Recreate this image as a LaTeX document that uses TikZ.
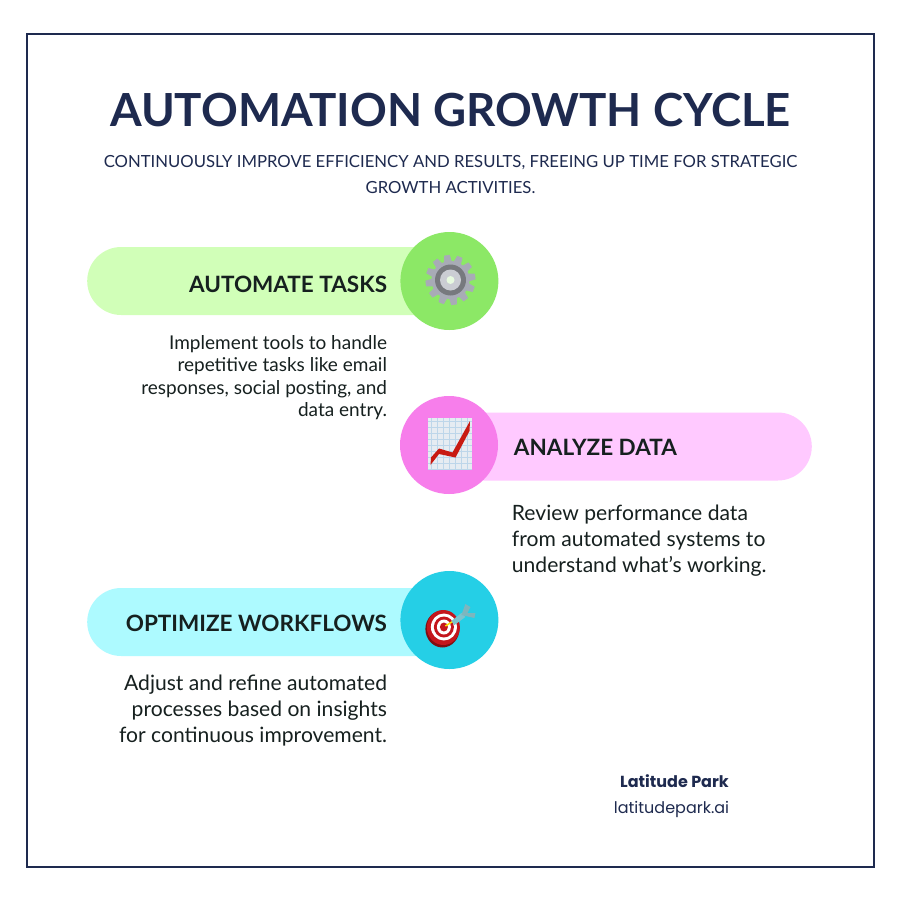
\documentclass[tikz,border=0pt]{standalone}
\usepackage{fontspec}
\setmainfont{Lato}
\newfontfamily\footfont{Poppins}
\usetikzlibrary{positioning}
\definecolor{navy}{HTML}{1E2A4F}
\definecolor{inkdark}{HTML}{16201F}
\definecolor{greenlight}{HTML}{D1FFB8}
\definecolor{greendot}{HTML}{8CE866}
\definecolor{pinklight}{HTML}{FFC9FF}
\definecolor{pinkdot}{HTML}{F77EEB}
\definecolor{cyanlight}{HTML}{ADFAFF}
\definecolor{cyandot}{HTML}{25CFE6}
\definecolor{gearsteel}{HTML}{A8ABB6}
\definecolor{geardark}{HTML}{77797E}
\definecolor{chartpaper}{HTML}{E6ECF2}
\definecolor{chartgrid}{HTML}{BDD6EA}
\definecolor{chartred}{HTML}{C81A12}
\definecolor{targetred}{HTML}{C4161C}
\definecolor{dartblue}{HTML}{7CC4CE}
\tikzset{
    pill/.style={minimum width=362pt, minimum height=68pt, rounded corners=34pt, inner sep=0pt},
    dot/.style={circle, minimum size=98pt, inner sep=0pt},
    heading/.style={font=\fontsize{22.5}{27}\selectfont\bfseries, text=inkdark, inner sep=0pt},
    body/.style={font=\fontsize{19}{22.5}\selectfont, text=inkdark, inner sep=0pt},
    bodywide/.style={font=\fontsize{21.1}{26}\selectfont, text=inkdark, inner sep=0pt}
}
\begin{document}
\begin{tikzpicture}[x=1pt, y=-1pt]
    \useasboundingbox (0,0) rectangle (900,900);
    \fill[white] (0,0) rectangle (900,900);
    \draw[navy, line width=2pt] (27,34) rectangle (874,867);

    \node[font=\fontsize{45.6}{56}\selectfont\bfseries, text=navy, inner sep=0pt] (title) at (450.5,110) {AUTOMATION GROWTH CYCLE};
    \node[font=\fontsize{16.7}{26}\selectfont, text=navy, align=center, inner sep=0pt, below=28pt of title] (subtitle)
        {CONTINUOUSLY IMPROVE EFFICIENCY AND RESULTS, FREEING UP TIME FOR STRATEGIC\\GROWTH ACTIVITIES.};

    % first step
    \node[pill, fill=greenlight, anchor=west] (autopill) at (87,281) {};
    \node[dot, fill=greendot] (autodot) at (autopill.east) {};
    \node[heading, left=13pt of autodot, yshift=-3pt] (autohead) {AUTOMATE TASKS};
    \node[body, align=right, below left=42.5pt and 0pt of autohead.south east] (autotext)
        {Implement tools to handle\\repetitive tasks like email\\responses, social posting, and\\data entry.};

    % second step
    \node[pill, fill=pinklight, anchor=east] (datapill) at (812,446.5) {};
    \node[dot, fill=pinkdot] (datadot) at (449,445) {};
    \node[heading, right=15.5pt of datadot, yshift=-2pt] (datahead) {ANALYZE DATA};
    \node[bodywide, align=left, below right=49.5pt and -2pt of datahead.south west] (datatext)
        {Review performance data\\from automated systems to\\understand what's working.};

    % third step
    \node[pill, fill=cyanlight, anchor=west] (flowpill) at (87,622) {};
    \node[dot, fill=cyandot] (flowdot) at (flowpill.east |- 0,620) {};
    \node[heading, left=13pt of flowdot, yshift=-3pt] (flowhead) {OPTIMIZE WORKFLOWS};
    \node[bodywide, align=right, below left=43.5pt and 0pt of flowhead.south east] (flowtext)
        {Adjust and refine automated\\processes based on insights\\for continuous improvement.};

    % gear icon
    \begin{scope}[shift={(450.5,280)}]
        \foreach \a in {0,30,...,330}
            \fill[gearsteel, rotate=\a+8] (-4,-17) -- (-2.8,-25) -- (2.8,-25) -- (4,-17) -- cycle;
        \fill[gearsteel] (0,0) circle (19pt);
        \fill[geardark] (0,0) circle (15.5pt);
        \fill[gearsteel!60!white] (0,0) circle (10.5pt);
        \fill[white!80!greendot] (0,0) circle (4pt);
    \end{scope}

    % chart icon
    \begin{scope}[shift={(datadot.center)}]
        \fill[chartpaper] (-21,-27) rectangle (23,25);
        \foreach \i in {-18,-12,...,22}
            \draw[chartgrid, line width=0.4pt] (\i,-27) -- (\i,25);
        \foreach \j in {-24,-18,...,24}
            \draw[chartgrid, line width=0.4pt] (-21,\j) -- (23,\j);
        \fill[chartred] (-18.5,20) -- (-18,12.5) -- (-10,3.5) -- (3.5,7.5) -- (21,-24) -- (20.5,-14) -- (6.5,12.5) -- (-10,9) -- cycle;
    \end{scope}

    % target icon
    \begin{scope}[shift={(flowdot.center)}]
        \fill[targetred!65!black] (-7,9) ellipse (17pt and 18.5pt);
        \fill[targetred] (-6,7.5) ellipse (16.5pt and 17.5pt);
        \fill[white] (-5.5,7) ellipse (13pt and 13.5pt);
        \fill[targetred] (-5.5,7) ellipse (10pt and 10.5pt);
        \fill[white] (-5.5,7) ellipse (7pt and 7.5pt);
        \fill[targetred] (-5.5,7) ellipse (4pt and 4.5pt);
        \draw[yellow!85!orange, line width=1.5pt] (-4,6) -- (4,1);
        \fill[dartblue] (2,1) -- (12,-7) -- (16,-3) -- (5,5) -- cycle;
        \fill[dartblue!80!gray] (12,-5) -- (16,-16) -- (21,-13) -- (18,-7) -- (26,-7) -- (25,-2) -- cycle;
    \end{scope}

    \node[font=\footfont\fontsize{16}{18}\selectfont\bfseries, text=navy, inner sep=0pt] (brand) at (674.5,781.5) {Latitude Park};
    \node[font=\footfont\fontsize{16}{18}\selectfont, text=navy, inner sep=0pt, below=13pt of brand, xshift=-3pt] (site) {latitudepark.ai};
\end{tikzpicture}
\end{document}
